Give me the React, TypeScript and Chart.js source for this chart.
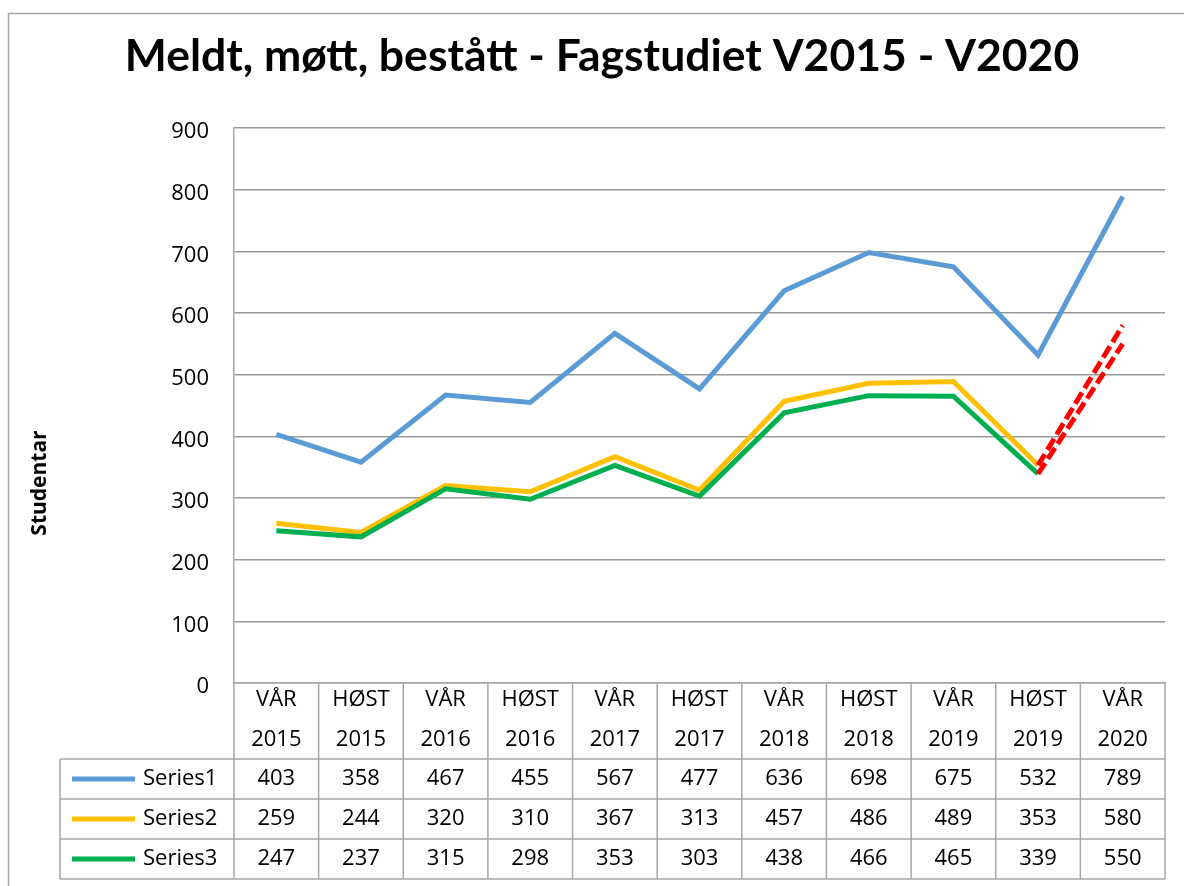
import React, { useEffect, useRef } from "react";
import { Chart, registerables } from "chart.js";

Chart.register(...registerables);

const titleText = "Meldt, møtt, bestått - Fagstudiet V2015 - V2020";
const yAxisTitle = "Studentar";
const seasons = ["VÅR", "HØST", "VÅR", "HØST", "VÅR", "HØST", "VÅR", "HØST", "VÅR", "HØST", "VÅR"];
const years = ["2015", "2015", "2016", "2016", "2017", "2017", "2018", "2018", "2019", "2019", "2020"];
const seriesNames = ["Series1", "Series2", "Series3"];
const series1 = [403, 358, 467, 455, 567, 477, 636, 698, 675, 532, 789];
const series2 = [259, 244, 320, 310, 367, 313, 457, 486, 489, 353, 580];
const series3 = [247, 237, 315, 298, 353, 303, 438, 466, 465, 339, 550];
const seriesColors = ["#5B9BD5", "#FFC000", "#00B050"];
const projectedColor = "#FF0000";
const yMin = 0;
const yMax = 900;
const yStep = 100;

const W = 1184;
const H = 886;
const FONT = "'Open Sans', 'DejaVu Sans', sans-serif";
const LINE_GRAY = "#a6a6a6";

const tablePlugin = {
  id: "dataTable",
  afterDraw(chart: any) {
    const ctx = chart.ctx as CanvasRenderingContext2D;
    const area = chart.chartArea;
    const xs = chart.scales.x;
    const n = seasons.length;
    const band = (area.right - area.left) / n;
    const tableLeft = 60;
    const headerTop = area.bottom;
    const headerBottom = headerTop + 76;
    const rowH = 40;
    const allSeries = [series1, series2, series3];
    const tableBottom = headerBottom + rowH * allSeries.length;

    ctx.save();
    // outer chart border
    ctx.strokeStyle = LINE_GRAY;
    ctx.lineWidth = 1.5;
    ctx.beginPath();
    ctx.moveTo(8.5, H + 10);
    ctx.lineTo(8.5, 13.5);
    ctx.lineTo(W + 10, 13.5);
    ctx.stroke();

    // chart title
    ctx.fillStyle = "#000";
    ctx.font = `bold 44.5px Lato, 'Open Sans', sans-serif`;
    ctx.textAlign = "center";
    ctx.textBaseline = "middle";
    ctx.fillText(titleText, 602, 57);

    // table grid
    ctx.strokeStyle = LINE_GRAY;
    ctx.lineWidth = 1.5;
    ctx.beginPath();
    for (let i = 0; i <= n; i++) {
      const x = area.left + band * i;
      ctx.moveTo(x, headerTop);
      ctx.lineTo(x, tableBottom);
    }
    ctx.moveTo(tableLeft, headerBottom);
    ctx.lineTo(tableLeft, tableBottom);
    for (let r = 0; r <= allSeries.length; r++) {
      const y = headerBottom + rowH * r;
      ctx.moveTo(tableLeft, y);
      ctx.lineTo(area.right, y);
    }
    ctx.stroke();

    // header text
    ctx.fillStyle = "#000";
    ctx.font = `22px ${FONT}`;
    ctx.textAlign = "center";
    ctx.textBaseline = "middle";
    for (let i = 0; i < n; i++) {
      const cx = xs.getPixelForValue(i);
      ctx.fillText(seasons[i], cx, headerTop + 17);
      ctx.fillText(years[i], cx, headerTop + 57);
    }
    // rows
    allSeries.forEach((vals, r) => {
      const cy = headerBottom + rowH * r + rowH / 2;
      ctx.textAlign = "center";
      for (let i = 0; i < n; i++) {
        ctx.fillText(String(vals[i]), xs.getPixelForValue(i), cy);
      }
      ctx.strokeStyle = seriesColors[r];
      ctx.lineWidth = 5;
      ctx.beginPath();
      ctx.moveTo(72, cy);
      ctx.lineTo(135, cy);
      ctx.stroke();
      ctx.textAlign = "left";
      ctx.fillText(seriesNames[r], 143, cy);
    });

    // y axis title
    ctx.save();
    ctx.translate(40, 483);
    ctx.rotate(-Math.PI / 2);
    ctx.font = `bold 21px ${FONT}`;
    ctx.textAlign = "center";
    ctx.textBaseline = "middle";
    ctx.fillText(yAxisTitle, 0, 0);
    ctx.restore();
    ctx.restore();
  },
};

export default function App() {
  const ref = useRef<HTMLCanvasElement | null>(null);
  useEffect(() => {
    if (!ref.current) return;
    const projected = (ctx: any) => (ctx.p1DataIndex === seasons.length - 1 ? projectedColor : undefined);
    const projectedDash = (ctx: any) => (ctx.p1DataIndex === seasons.length - 1 ? [13, 5] : undefined);
    const chart = new Chart(ref.current, {
      type: "line",
      data: {
        labels: seasons.map((s, i) => `${s} ${years[i]}`),
        datasets: [
          {
            label: seriesNames[0],
            data: series1,
            borderColor: seriesColors[0],
            backgroundColor: seriesColors[0],
            borderWidth: 5,
            pointRadius: 0,
            tension: 0,
            order: 3,
          },
          {
            label: seriesNames[1],
            data: series2,
            borderColor: seriesColors[1],
            backgroundColor: seriesColors[1],
            borderWidth: 5,
            pointRadius: 0,
            tension: 0,
            order: 2,
            segment: { borderColor: projected, borderDash: projectedDash },
          },
          {
            label: seriesNames[2],
            data: series3,
            borderColor: seriesColors[2],
            backgroundColor: seriesColors[2],
            borderWidth: 5,
            pointRadius: 0,
            tension: 0,
            order: 1,
            segment: { borderColor: projected, borderDash: projectedDash },
          },
        ],
      },
      options: {
        responsive: false,
        animation: false,
        devicePixelRatio: 1,
        layout: { padding: { left: 0, right: 19, top: 128, bottom: 0 } },
        plugins: {
          legend: { display: false },
          tooltip: { enabled: false },
          title: { display: false },
        },
        scales: {
          x: {
            type: "category",
            offset: true,
            grid: { display: false },
            border: { display: true, color: LINE_GRAY, width: 1.5 },
            ticks: { display: false },
            afterFit: (s: any) => {
              s.height = H - 683;
            },
          },
          y: {
            min: yMin,
            max: yMax,
            ticks: {
              stepSize: yStep,
              color: "#000",
              font: { family: FONT, size: 22 },
              padding: 25,
              labelOffset: 4,
            },
            grid: { color: "#999", lineWidth: 1.5, drawTicks: false },
            border: { display: true, color: LINE_GRAY, width: 1.5 },
            afterFit: (s: any) => {
              s.width = 234;
            },
          },
        },
      },
      plugins: [tablePlugin],
    });
    return () => chart.destroy();
  }, []);

  return (
    <div style={{ position: "fixed", left: 0, top: 0, width: W, height: H, background: "#fff" }}>
      <canvas ref={ref} width={W} height={H} style={{ width: W, height: H, display: "block" }} />
    </div>
  );
}
